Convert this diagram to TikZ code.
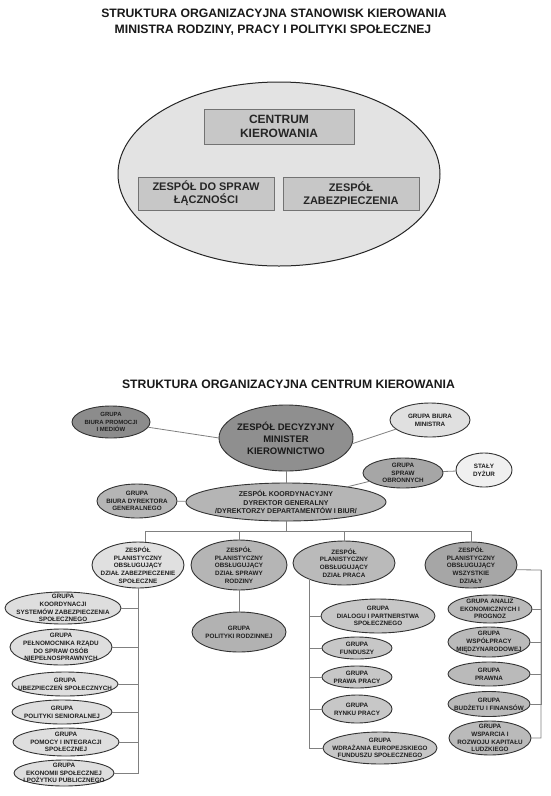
\documentclass[tikz,border=0pt]{standalone}
\usepackage{fontspec}
\setmainfont{Liberation Sans}
\usetikzlibrary{shapes.geometric}

\begin{document}
\begin{tikzpicture}[x=1pt,y=-1pt]

    \tikzset{
      ttl/.style={font=\fontsize{12.2}{15.5}\selectfont\bfseries, text=black!90, inner sep=0pt, anchor=base},
      ell/.style={ellipse, draw=black!80, line width=0.9pt, fill=#1, inner sep=0pt, outer sep=0pt},
      lbl/.style={font=\fontsize{6.3}{7.7}\selectfont\bfseries, text=black!88, align=center, inner sep=0pt},
      txt/.style={label={[lbl]center:#1}},
      bx/.style={draw=black!55, line width=0.8pt, fill=black!22, inner sep=0pt, text=black!85, align=center},
      link/.style={draw=black!50, line width=0.8pt},
    }
    \fill[white] (0,0) rectangle (550,796);
    \useasboundingbox (0,0) rectangle (550,796);

    % stanowiska kierowania
    \node[ttl] (ttl1) at (274,17.9) {STRUKTURA ORGANIZACYJNA STANOWISK KIEROWANIA};
    \node[ttl] (ttl2) at (273,33.4) {MINISTRA RODZINY, PRACY I POLITYKI SPOŁECZNEJ};
    \node[ellipse, draw=black!85, line width=1pt, fill=black!11, minimum width=322, minimum height=184] (stan) at (279,174) {};
    \node[bx, minimum width=150, minimum height=35, font=\fontsize{12}{14.5}\selectfont\bfseries] (centrum) at (279,126.5) {CENTRUM\\KIEROWANIA};
    \node[bx, minimum width=136, minimum height=33, font=\fontsize{11}{13}\selectfont\bfseries] (lacz) at (206,193.5) {ZESPÓŁ DO SPRAW\\ŁĄCZNOŚCI};
    \node[bx, minimum width=136, minimum height=33, font=\fontsize{11}{13}\selectfont\bfseries] (zabez) at (351,193.5) {ZESPÓŁ\\ZABEZPIECZENIA};

    % centrum kierowania
    \node[ttl] (ttl3) at (288.5,388.5) {STRUKTURA ORGANIZACYJNA CENTRUM KIEROWANIA};
    \node[ell=black!44, minimum width=134, minimum height=66,
      label={[lbl, font=\fontsize{9.5}{12}\selectfont\bfseries, text=black!90]center:ZESPÓŁ DECYZYJNY\\MINISTER\\KIEROWNICTWO}] (decyz) at (286,438) {};
    \node[ell=black!45, minimum width=78, minimum height=32,
      label={[lbl, font=\fontsize{6}{7.4}\selectfont\bfseries]center:GRUPA\\BIURA PROMOCJI\\I MEDIÓW}] (promo) at (111,422) {};
    \node[ell=black!12, minimum width=80, minimum height=34, txt={GRUPA BIURA\\MINISTRA}] (minis) at (430,420) {};
    \node[ell=black!35, minimum width=80, minimum height=30, txt={GRUPA\\SPRAW\\OBRONNYCH}] (obron) at (403,473) {};
    \node[ell=black!6, minimum width=56, minimum height=34, txt={STAŁY\\DYŻUR}] (dyzur) at (484,470) {};
    \node[ell=black!29, minimum width=80, minimum height=34, txt={GRUPA\\BIURA DYREKTORA\\GENERALNEGO}] (dyrek) at (137,501) {};
    \node[ell=black!29, minimum width=200, minimum height=38,
      label={[lbl, font=\fontsize{7}{8.8}\selectfont\bfseries]center:ZESPÓŁ KOORDYNACYJNY\\DYREKTOR GENERALNY\\/DYREKTORZY DEPARTAMENTÓW I BIUR/}] (koord) at (286,502) {};

    \draw[link] (promo.-8) -- (decyz.west);
    \draw[link] (minis.195) -- (decyz.-5);
    \draw[link] (decyz) -- (koord);
    \draw[link] (dyrek) -- (koord);
    \draw[link] (obron) -- (koord);
    \draw[link] (dyzur) -- (obron);

    % zespoly planistyczne
    \node[ell=black!12, minimum width=92, minimum height=46, txt={ZESPÓŁ\\PLANISTYCZNY\\OBSŁUGUJĄCY\\DZIAŁ ZABEZPIECZENIE\\SPOŁECZNE}] (zp1) at (138,565) {};
    \node[ell=black!29, minimum width=96, minimum height=50, txt={ZESPÓŁ\\PLANISTYCZNY\\OBSŁUGUJĄCY\\DZIAŁ SPRAWY\\RODZINY}] (zp2) at (239,565) {};
    \node[ell=black!27, minimum width=102, minimum height=44, txt={ZESPÓŁ\\PLANISTYCZNY\\OBSŁUGUJĄCY\\DZIAŁ PRACA}] (zp3) at (344,563) {};
    \node[ell=black!35, minimum width=92, minimum height=46, txt={ZESPÓŁ\\PLANISTYCZNY\\OBSŁUGUJĄCY\\WSZYSTKIE\\DZIAŁY}] (zp4) at (471,565) {};

    \coordinate (bus) at (286,531);
    \draw[link] (koord) -- (bus);
    \draw[link] (zp1.73) |- (bus);
    \draw[link] (zp2.north) |- (bus);
    \draw[link] (zp3.north) |- (bus);
    \draw[link] (zp4.north) |- (bus);

    % dzial zabezpieczenie spoleczne
    \node[ell=black!13, minimum width=116, minimum height=32, txt={GRUPA\\KOORDYNACJI\\SYSTEMÓW ZABEZPIECZENIA\\SPOŁECZNEGO}] (kz1) at (63,608) {};
    \node[ell=black!13, minimum width=102, minimum height=36, txt={GRUPA\\PEŁNOMOCNIKA RZĄDU\\DO SPRAW OSÓB\\NIEPEŁNOSPRAWNYCH}] (kz2) at (61,647) {};
    \node[ell=black!13, minimum width=106, minimum height=24, txt={GRUPA\\UBEZPIECZEŃ SPOŁECZNYCH}] (kz3) at (65,684) {};
    \node[ell=black!13, minimum width=100, minimum height=24, txt={GRUPA\\POLITYKI SENIORALNEJ}] (kz4) at (62,712) {};
    \node[ell=black!13, minimum width=106, minimum height=28, txt={GRUPA\\POMOCY I INTEGRACJI\\SPOŁECZNEJ}] (kz5) at (66,742) {};
    \node[ell=black!13, minimum width=100, minimum height=26, txt={GRUPA\\EKONOMII SPOŁECZNEJ\\I POŻYTKU PUBLICZNEGO}] (kz6) at (64,773) {};
    \draw[link] (zp1.south) |- (kz1.east);
    \draw[link] (zp1.south) |- (kz2.east);
    \draw[link] (zp1.south) |- (kz3.east);
    \draw[link] (zp1.south) |- (kz4.east);
    \draw[link] (zp1.south) |- (kz5.east);
    \draw[link] (zp1.south) |- (kz6.east);

    % dzial sprawy rodziny
    \node[ell=black!30, minimum width=94, minimum height=40, txt={GRUPA\\POLITYKI RODZINNEJ}] (rodz) at (239,632) {};
    \draw[link] (zp2) -- (rodz);

    % dzial praca
    \node[ell=black!22, minimum width=114, minimum height=34, txt={GRUPA\\DIALOGU I PARTNERSTWA\\SPOŁECZNEGO}] (pc1) at (378,616) {};
    \node[ell=black!22, minimum width=70, minimum height=22, txt={GRUPA\\FUNDUSZY}] (pc2) at (357,648) {};
    \node[ell=black!22, minimum width=70, minimum height=22, txt={GRUPA\\PRAWA PRACY}] (pc3) at (357,677) {};
    \node[ell=black!22, minimum width=70, minimum height=28, txt={GRUPA\\RYNKU PRACY}] (pc4) at (357,709) {};
    \node[ell=black!22, minimum width=114, minimum height=32, txt={GRUPA\\WDRAŻANIA EUROPEJSKIEGO\\FUNDUSZU SPOŁECZNEGO}] (pc5) at (380,748) {};
    \draw[link] (zp3.205) |- (pc1.west);
    \draw[link] (zp3.205) |- (pc2.west);
    \draw[link] (zp3.205) |- (pc3.west);
    \draw[link] (zp3.205) |- (pc4.west);
    \draw[link] (zp3.205) |- (pc5.west);

    % wszystkie dzialy
    \node[ell=black!27, minimum width=84, minimum height=28, txt={GRUPA ANALIZ\\EKONOMICZNYCH I\\PROGNOZ}] (wd1) at (490,609) {};
    \node[ell=black!27, minimum width=82, minimum height=30, txt={GRUPA\\WSPÓŁPRACY\\MIĘDZYNARODOWEJ}] (wd2) at (489,642) {};
    \node[ell=black!27, minimum width=82, minimum height=24, txt={GRUPA\\PRAWNA}] (wd3) at (489,674) {};
    \node[ell=black!27, minimum width=82, minimum height=25, txt={GRUPA\\BUDŻETU I FINANSÓW}] (wd4) at (489,704) {};
    \node[ell=black!27, minimum width=82, minimum height=34, txt={GRUPA\\WSPARCIA I\\ROZWOJU KAPITAŁU\\LUDZKIEGO}] (wd5) at (490,738) {};
    \coordinate (rbus) at (541,570);
    \draw[link] (zp4.-6) -- (rbus) |- (wd5.east);
    \draw[link] (rbus) |- (wd1.east);
    \draw[link] (rbus) |- (wd2.east);
    \draw[link] (rbus) |- (wd3.east);
    \draw[link] (rbus) |- (wd4.east);

\end{tikzpicture}
\end{document}
